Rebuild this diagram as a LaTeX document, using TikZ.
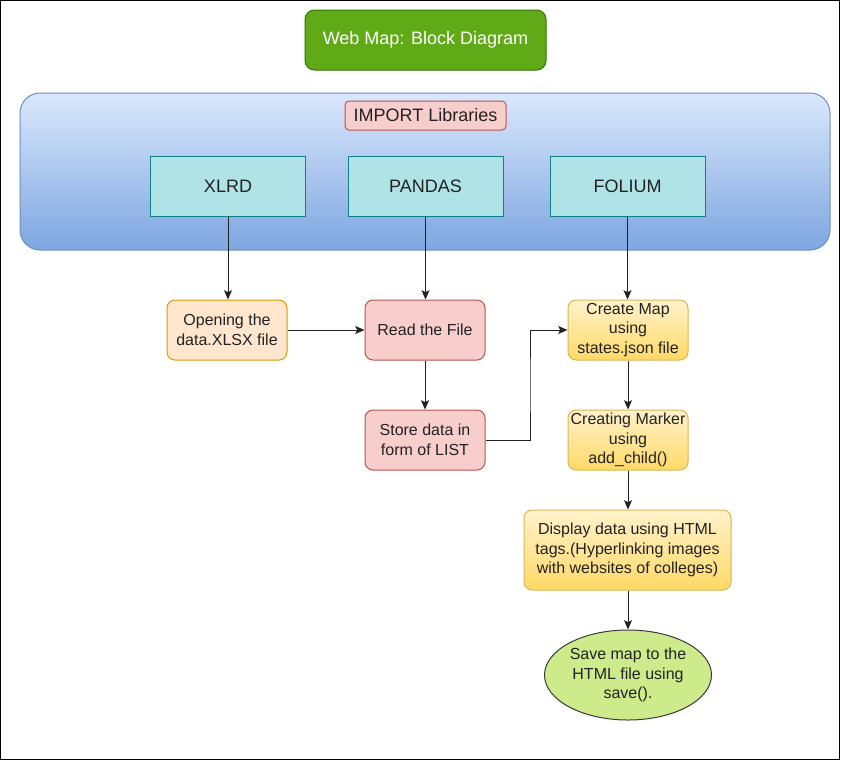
\documentclass[tikz,border=0pt]{standalone}
\usepackage{fontspec}
\setmainfont{Liberation Sans}
\usetikzlibrary{shapes.geometric,arrows.meta}
\definecolor{greenF}{HTML}{60A917}
\definecolor{greenS}{HTML}{2D7600}
\definecolor{blueT}{HTML}{DAE8FC}
\definecolor{blueB}{HTML}{7EA6E0}
\definecolor{blueS}{HTML}{6C8EBF}
\definecolor{redF}{HTML}{F8CECC}
\definecolor{redS}{HTML}{B85450}
\definecolor{tealF}{HTML}{B0E3E6}
\definecolor{tealS}{HTML}{0E8088}
\definecolor{orangeF}{HTML}{FFE6CC}
\definecolor{orangeS}{HTML}{D79B00}
\definecolor{yelT}{HTML}{FFF2CC}
\definecolor{yelB}{HTML}{FFD966}
\definecolor{yelS}{HTML}{D6B656}
\definecolor{limeF}{HTML}{CDEB8B}
\definecolor{limeS}{HTML}{36393D}
\definecolor{txt}{HTML}{222222}
\definecolor{lineC}{HTML}{222222}
\tikzset{
  base/.style={inner sep=0pt, align=center, text=txt, font=\fontsize{12pt}{14.6pt}\selectfont, line width=0.75pt},
  titlebox/.style={base, rectangle, rounded corners=7pt, fill=greenF, draw=greenS, text=white,
    font=\fontsize{13.5pt}{16pt}\selectfont, minimum width=180.75pt, minimum height=45pt},
  container/.style={base, rectangle, rounded corners=15pt, top color=blueT, bottom color=blueB, draw=blueS,
    minimum width=607.5pt, minimum height=117.75pt},
  importbox/.style={base, rectangle, rounded corners=3pt, fill=redF, draw=redS,
    font=\fontsize{13.5pt}{16pt}\selectfont, minimum width=120.75pt, minimum height=21.75pt},
  libbox/.style={base, rectangle, fill=tealF, draw=tealS,
    font=\fontsize{13.5pt}{16pt}\selectfont, minimum width=116.25pt, minimum height=45pt},
  orangebox/.style={base, rectangle, rounded corners=6pt, fill=orangeF, draw=orangeS, minimum width=90pt, minimum height=45pt},
  redbox/.style={base, rectangle, rounded corners=6pt, fill=redF, draw=redS, minimum width=90pt, minimum height=45pt},
  yelbox/.style={base, rectangle, rounded corners=6pt, top color=yelT, bottom color=yelB, draw=yelS, minimum width=90pt, minimum height=45pt},
  endell/.style={base, ellipse, fill=limeF, draw=limeS, minimum width=125.25pt, minimum height=67.5pt},
  conn/.style={draw=lineC, line width=0.75pt, -{Stealth[length=7pt,width=6pt,inset=1.5pt]}}
}
\begin{document}
\begin{tikzpicture}[x=0.75pt,y=-0.75pt]
\useasboundingbox (0,0) rectangle (841,761);
\draw[black, line width=1.1pt] (0.7,0.7) rectangle (839.6,759.6);

\node[titlebox] (title) at (425.5,40) {Web Map: Block Diagram};
\node[container] (libs) at (425,171.5) {};
\node[importbox] (import) at (425.5,115.5) {IMPORT Libraries};
\node[libbox] (xlrd) at (228,186) {XLRD};
\node[libbox] (pandas) at (425.5,186) {PANDAS};
\node[libbox] (folium) at (627.5,186) {FOLIUM};

\node[orangebox] (open) at (227,330) {Opening the\\data.XLSX file};
\node[redbox] (read) at (425,330) {Read the File};
\node[redbox] (store) at (425,440) {Store data in\\form of LIST};
\node[yelbox] (cmap) at (628,330) {Create Map\\using\\states.json file};
\node[yelbox] (marker) at (628,440) {Creating Marker\\using\\add\_child()};
\node[yelbox, minimum width=155.25pt, minimum height=60pt] (display) at (627.5,550) {Display data using HTML\\tags.(Hyperlinking images\\with websites of colleges)};
\node[endell] (save) at (628,675) {Save map to the\\HTML file using\\save().};

\coordinate (bend) at (530,385);

\draw[conn] (xlrd.south) -- (xlrd.south |- open.north);
\draw[conn] (pandas.south) -- (pandas.south |- read.north);
\draw[conn] (folium.south) -- (folium.south |- cmap.north);
\draw[conn] (open.east) -- (read.west);
\draw[conn] (read.south) -- (store.north);
\draw[conn] (store.east) -| (bend) |- (cmap.west);
\draw[conn] (cmap.south) -- (marker.north);
\draw[conn] (marker.south) -- (display.north -| marker.south);
\draw[conn] (display.south -| save.north) -- (save.north);
\end{tikzpicture}
\end{document}
